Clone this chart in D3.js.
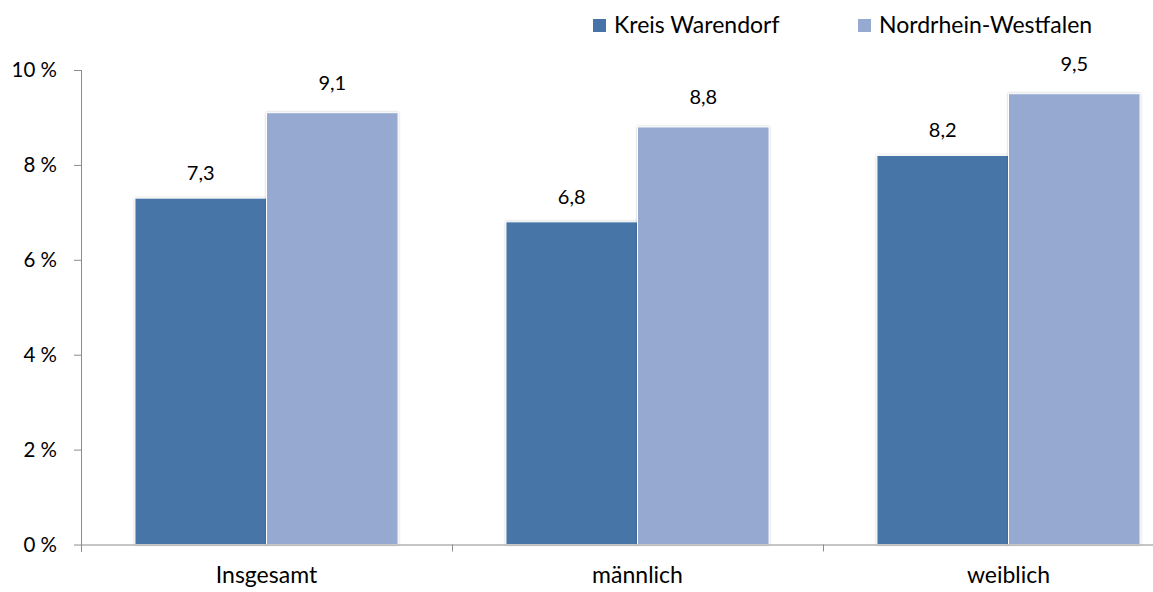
<!DOCTYPE html>
<html>
<head>
<meta charset="utf-8">
<script src="https://cdn.jsdelivr.net/npm/d3@7"></script>
<style>
  body { margin: 0; background: #fff; }
  svg { display: block; font-family: Lato, "Open Sans", sans-serif; }
  .axis path, .axis line { stroke: #8c8c8c; }
</style>
</head>
<body>
<script>
// chart data
var categories = ["Insgesamt", "männlich", "weiblich"];
var seriesNames = ["Kreis Warendorf", "Nordrhein-Westfalen"];
var warendorf = [7.3, 6.8, 8.2];
var nrw = [9.1, 8.8, 9.5];
var yTicks = [0, 2, 4, 6, 8, 10];

var colors = ["#4674a8", "#95a9d1"];
var labelGap = [18, 23];

var W = 1153, H = 592;

var svg = d3.select("body")
  .append("svg")
  .attr("width", W)
  .attr("height", H);

// soft shadow round the bars
var defs = svg.append("defs");
var filt = defs.append("filter").attr("id", "shadow")
  .attr("x", "-5%").attr("y", "-5%").attr("width", "110%").attr("height", "110%");
filt.append("feDropShadow")
  .attr("dx", 0).attr("dy", 0).attr("stdDeviation", 1.2)
  .attr("flood-color", "#000").attr("flood-opacity", 0.25);

// scales
var x0 = d3.scaleBand()
  .domain(categories)
  .range([81, 81 + 3 * 371]);

var x1 = d3.scaleBand()
  .domain(seriesNames)
  .range([0, x0.bandwidth()])
  .paddingOuter(0.41);

var y = d3.scaleLinear()
  .domain([0, 10])
  .range([544.5, 70]);

var rows = categories.map(function(c, i) {
  return { cat: c, values: [warendorf[i], nrw[i]] };
});

// bars
var groups = svg.selectAll(".cat")
  .data(rows)
  .enter()
  .append("g")
  .attr("class", "cat")
  .attr("transform", function(d) { return "translate(" + x0(d.cat) + ",0)"; });

groups.selectAll("rect")
  .data(function(d) { return d.values.map(function(v, j) { return { s: j, v: v }; }); })
  .enter()
  .append("rect")
  .attr("x", function(d) { return x1(seriesNames[d.s]); })
  .attr("y", function(d) { return y(d.v); })
  .attr("width", x1.bandwidth())
  .attr("height", function(d) { return y(0) - y(d.v); })
  .attr("fill", function(d) { return colors[d.s]; })
  .attr("stroke", "#fff")
  .attr("stroke-width", 1)
  .attr("filter", "url(#shadow)");

// value labels
groups.selectAll("text.val")
  .data(function(d) { return d.values.map(function(v, j) { return { s: j, v: v }; }); })
  .enter()
  .append("text")
  .attr("class", "val")
  .attr("x", function(d) { return x1(seriesNames[d.s]) + x1.bandwidth() / 2; })
  .attr("y", function(d) { return y(d.v) - labelGap[d.s]; })
  .attr("text-anchor", "middle")
  .style("font-size", "20px")
  .style("fill", "#000")
  .text(function(d) { return d3.format(".1f")(d.v).replace(".", ","); });

// y axis
var yAxis = svg.append("g")
  .attr("class", "axis")
  .attr("transform", "translate(81,0)")
  .call(d3.axisLeft(y).tickValues(yTicks).tickSize(7).tickSizeOuter(0)
    .tickFormat(function(d) { return d + " %"; }));
yAxis.select(".domain").attr("d", "M0.5,70V552");
yAxis.selectAll("text")
  .attr("x", -24)
  .style("font-size", "20.5px")
  .style("font-family", "Lato, sans-serif")
  .style("fill", "#000");

// x axis
var xAxis = svg.append("g")
  .attr("class", "axis")
  .attr("transform", "translate(0,544.5)")
  .call(d3.axisBottom(x0).tickSize(0).tickSizeOuter(0));
xAxis.selectAll("text")
  .attr("y", 38.5)
  .attr("dy", 0)
  .style("font-size", "23px")
  .style("font-family", "Lato, sans-serif")
  .style("fill", "#000");
// boundary ticks between categories
xAxis.selectAll("line.sep")
  .data(categories)
  .enter()
  .append("line")
  .attr("class", "sep")
  .attr("x1", function(d) { return x0(d) + x0.bandwidth() + 0.5; })
  .attr("x2", function(d) { return x0(d) + x0.bandwidth() + 0.5; })
  .attr("y1", 0)
  .attr("y2", 7);

// legend
var legendX = [593, 858];
var legend = svg.selectAll(".legend")
  .data(seriesNames)
  .enter()
  .append("g")
  .attr("class", "legend")
  .attr("transform", function(d, i) { return "translate(" + legendX[i] + ",19)"; });
legend.append("rect")
  .attr("width", 13)
  .attr("height", 13)
  .attr("fill", function(d, i) { return colors[i]; });
legend.append("text")
  .attr("x", 21)
  .attr("y", 14)
  .style("font-size", "23px")
  .style("fill", "#000")
  .text(function(d) { return d; });
</script>
</body>
</html>
